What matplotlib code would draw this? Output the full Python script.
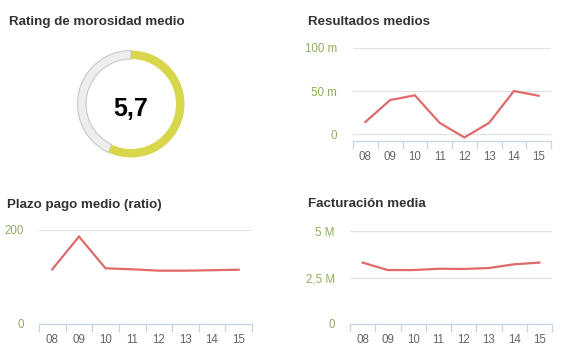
import matplotlib
matplotlib.use("Agg")
import matplotlib.pyplot as plt
from matplotlib.patches import Wedge
from matplotlib.ticker import FixedLocator

plt.rcParams['font.family'] = ['Liberation Sans', 'DejaVu Sans']

# ---------------- data ----------------
years = ["08", "09", "10", "11", "12", "13", "14", "15"]
rating_value = 5.7
rating_max = 10.0
rating_label = "5,7"

resultados = [14, 39.5, 45, 13, -4, 13, 50, 44.5]          # thousands (m)
resultados_ticks = [0, 50, 100]
resultados_ticklabels = ["0", "50 m", "100 m"]

plazo = [116, 186, 118, 116, 113, 113, 114, 115]
plazo_ticks = [0, 200]
plazo_ticklabels = ["0", "200"]

facturacion = [3.30, 2.90, 2.90, 2.97, 2.96, 3.01, 3.21, 3.30]  # millions
facturacion_ticks = [0, 2.5, 5]
facturacion_ticklabels = ["0", "2,5 M", "5 M"]

titles = ["Rating de morosidad medio", "Resultados medios",
          "Plazo pago medio (ratio)", "Facturación media"]

# ---------------- style ----------------
W, H = 566, 360
DPI = 100
LINE = "#e06a6a"
GRID = "#e3e3e3"
AXIS = "#c5d5e6"
YLAB = "#8fae5b"
XLAB = "#666666"
TITLE = "#333333"

fig = plt.figure(figsize=(W / DPI, H / DPI), dpi=DPI)


def px_axes(x0, y0, x1, y1):
    return fig.add_axes([x0 / W, 1 - y1 / H, (x1 - x0) / W, (y1 - y0) / H])


def title(x, y, s):
    fig.text(x / W, 1 - y / H, s, fontsize=9.6, fontweight="bold",
             color=TITLE, ha="left", va="center")


def line_panel(ax, vals, ylim, yticks, yticklabels, ypad):
    n = len(vals)
    ax.plot(range(n), vals, color=LINE, lw=1.6, solid_joinstyle="miter",
            zorder=3, clip_on=False)
    ax.set_xlim(-0.5, n - 0.5)
    ax.set_ylim(*ylim)
    ax.set_yticks(yticks)
    ax.set_yticklabels(yticklabels)
    ax.set_xticks(range(n))
    ax.set_xticklabels(years)
    ax.xaxis.set_minor_locator(FixedLocator([i - 0.5 for i in range(n + 1)]))
    ax.tick_params(axis="x", which="major", length=0, pad=7.5,
                   labelsize=8.3, labelcolor=XLAB)
    ax.tick_params(axis="x", which="minor", length=6, width=0.9,
                   color=AXIS, direction="out")
    ax.tick_params(axis="y", length=0, pad=ypad, labelsize=8.3,
                   labelcolor=YLAB)
    for s in ["top", "left", "right"]:
        ax.spines[s].set_visible(False)
    ax.spines["bottom"].set_color(AXIS)
    ax.spines["bottom"].set_linewidth(0.9)
    for t in yticks:
        ax.axhline(t, color=GRID, lw=0.9, zorder=1)
    ax.set_facecolor("none")


# --- panel 1: donut ---
title(9, 22, titles[0])
cx, cy, R, wdt = 131, 104, 53.5, 8.5
axd = px_axes(cx - 60, cy - 60, cx + 60, cy + 60)
axd.set_xlim(-60, 60)
axd.set_ylim(-60, 60)
axd.set_aspect("equal")
axd.axis("off")
frac = rating_value / rating_max
start = 90 - 360 * frac
axd.add_patch(Wedge((0, 0), R, 90, start + 360, width=wdt,
                    facecolor="#eeeeee", edgecolor="#c8c8c8", lw=0.8))
axd.add_patch(Wedge((0, 0), R, start, 90, width=wdt,
                    facecolor="#d8d64a", edgecolor="none"))
axd.text(0, -5.5, rating_label, fontsize=18, fontweight="bold",
         color="black", ha="center", va="center")

# --- panel 2: Resultados medios ---
title(308, 22, titles[1])
ax2 = px_axes(353, 48, 551, 141)
line_panel(ax2, resultados, (-8.1, 100), resultados_ticks,
           resultados_ticklabels, 11.5)

# --- panel 3: Plazo pago medio ---
title(7, 205, titles[2])
ax3 = px_axes(39, 230, 252, 323.5)
line_panel(ax3, plazo, (0, 200), plazo_ticks, plazo_ticklabels, 11)

# --- panel 4: Facturación media ---
title(308, 204, titles[3])
ax4 = px_axes(350, 231, 552, 324)
line_panel(ax4, facturacion, (0, 5), facturacion_ticks,
           facturacion_ticklabels, 11)

fig.savefig("out.png", dpi=DPI)
